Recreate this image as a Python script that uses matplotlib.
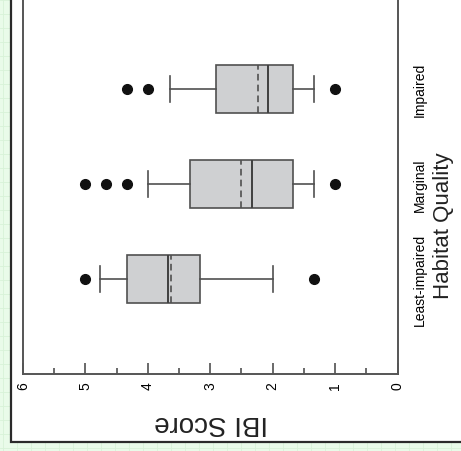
import matplotlib
matplotlib.use('Agg')
import matplotlib.pyplot as plt
from matplotlib.patches import Rectangle
from matplotlib.lines import Line2D
from matplotlib.ticker import MultipleLocator
import numpy as np

plt.rcParams['font.family'] = ['Liberation Sans', 'DejaVu Sans']

categories = ['Least-impaired', 'Marginal', 'Impaired']
q1 = [3.17, 1.67, 1.67]
q3 = [4.33, 3.33, 2.91]
medians = [3.67, 2.33, 2.08]
means = [3.63, 2.51, 2.24]
whisk_lo = [2.0, 1.33, 1.33]
whisk_hi = [4.77, 4.0, 3.65]
fliers = [[1.33, 5.0], [1.0, 4.33, 4.67, 5.0], [1.0, 4.0, 4.33]]

W, H = 461, 452
fig = plt.figure(figsize=(W / 100, H / 100), dpi=100)
fig.patch.set_facecolor('#e9fbe9')

# green page grid behind the chart
for gx in np.arange(3, W, 14):
    fig.add_artist(Line2D([gx / W, gx / W], [0, 1], color='#d8f2d8', lw=0.6, zorder=0))
for gy in np.arange(3, H, 14):
    fig.add_artist(Line2D([0, 1], [gy / H, gy / H], color='#d8f2d8', lw=0.6, zorder=0))

# white panel with dark border
fig.add_artist(Rectangle((10.5 / W, (H - 442.5) / H), 1.0, 1.0, facecolor='white',
                         edgecolor='#2a2a2a', lw=1.6, zorder=0.5))

ax = fig.add_axes([23 / W, 1 - 375 / H, 374.5 / W, 380 / H])
ax.set_zorder(2)
ax.patch.set_alpha(0)

stats = []
for i, c in enumerate(categories):
    stats.append({'label': c, 'q1': q1[i], 'q3': q3[i], 'med': medians[i], 'mean': means[i],
                  'whislo': whisk_lo[i], 'whishi': whisk_hi[i], 'fliers': fliers[i]})

ax.bxp(stats, positions=[1, 2, 3], widths=0.5, vert=False, patch_artist=True,
       showmeans=True, meanline=True,
       boxprops=dict(facecolor='#cfd0d2', edgecolor='#505050', lw=1.2),
       medianprops=dict(color='#404040', lw=1.4),
       meanprops=dict(color='#505050', lw=1.2, linestyle=(0, (4, 2.5))),
       whiskerprops=dict(color='#505050', lw=1.2),
       capprops=dict(color='#505050', lw=1.2),
       capwidths=0.27,
       flierprops=dict(marker='o', markerfacecolor='#111111', markeredgecolor='#111111',
                       markersize=7))

ax.set_xlim(6, 0)
ax.set_ylim(0, 4)
ax.xaxis.set_major_locator(MultipleLocator(1))
ax.xaxis.set_minor_locator(MultipleLocator(0.5))
ax.tick_params(axis='x', which='major', direction='in', length=8, width=1.2, color='#505050',
               labelsize=10, labelrotation=90, pad=5)
ax.tick_params(axis='x', which='minor', direction='in', length=4, width=1.2, color='#505050')
ax.set_xticklabels([str(int(v)) if 0 <= v <= 6 else '' for v in ax.get_xticks()],
                   rotation=90, va='top', ha='center')

ax.yaxis.tick_right()
ax.tick_params(axis='y', length=0, pad=11, labelsize=10)
ax.set_yticks([1, 2, 3])
ax.set_yticklabels(categories, rotation=90, va='center', ha='left')

ax.spines['top'].set_visible(False)
for s in ['left', 'right', 'bottom']:
    ax.spines[s].set_color('#555555')
    ax.spines[s].set_linewidth(1.4)

fig.text(211 / W, 1 - 423 / H, 'IBI Score', rotation=180, fontsize=20,
         ha='center', va='center', color='#222222')
fig.text(443 / W, 1 - 226 / H, 'Habitat Quality', rotation=90, fontsize=16,
         ha='center', va='center', color='#222222')

fig.savefig('out.png', dpi=100, facecolor=fig.get_facecolor())
